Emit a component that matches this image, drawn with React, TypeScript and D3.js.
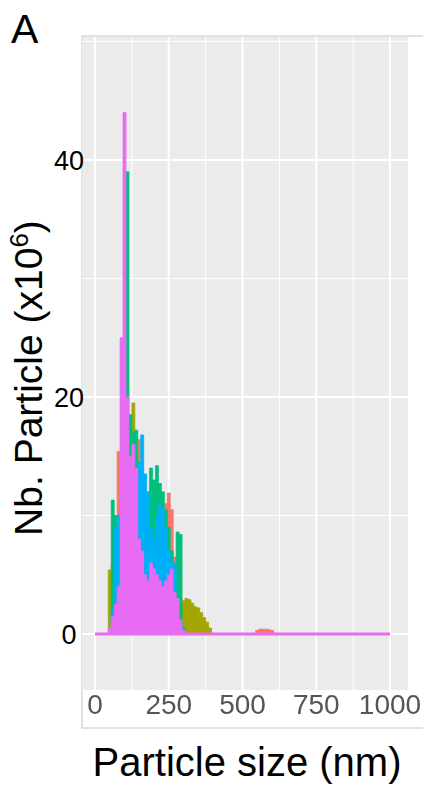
import React, { useRef, useEffect } from 'react';
import * as d3 from 'd3';

// bin centres (nm), 10 nm wide
const binCenters = [50, 60, 70, 80, 90, 100, 110, 120, 130, 140, 150, 160, 170, 180, 190, 200, 210, 220,
  230, 240, 250, 260, 270, 280, 290, 300, 310, 320, 330, 340, 350, 360, 370, 380, 390, 400];

// particle counts (x10^6), one array per sample
const sampleRed = [0, 6.0, 5.0, 15.4, 12.0, 10.0, 12.0, 13.0, 14.0, 15.0, 16.4, 11.0, 9.0, 8.0, 10.0, 9.0, 8.0, 9.5,
  10.5, 11.0, 11.9, 10.5, 6.5, 4.0, 2.5, 1.5, 0.8, 0.4, 0, 0, 0, 0, 0, 0, 0, 0];
const sampleOlive = [5.4, 4.5, 4.0, 5.0, 8.0, 12.0, 16.0, 17.5, 19.5, 15.0, 13.0, 12.0, 10.0, 8.0, 9.0, 10.0, 11.0, 10.0,
  9.0, 8.0, 6.0, 5.0, 4.0, 3.5, 3.0, 2.8, 3.0, 2.9, 2.6, 2.3, 2.2, 1.8, 1.4, 1.0, 0.5, 0];
const sampleGreen = [0, 11.3, 10.0, 7.0, 9.0, 25.0, 39.0, 18.5, 17.0, 17.2, 12.0, 9.0, 8.0, 11.0, 14.0, 13.0, 14.2, 12.7,
  12.0, 10.5, 9.0, 7.0, 5.0, 8.6, 8.4, 0.5, 0, 0, 0, 0, 0, 0, 0, 0, 0, 0];
const sampleBlue = [0, 2.0, 9.0, 10.0, 11.0, 13.0, 12.0, 10.0, 12.0, 13.0, 14.5, 16.8, 13.5, 12.0, 9.0, 8.0, 10.0, 11.0,
  10.5, 9.0, 7.0, 6.0, 6.0, 2.0, 1.0, 0.5, 0, 0, 0, 0, 0, 0, 0, 0, 0, 0];
const samplePink = [0.5, 1.5, 2.5, 4.0, 25.0, 44.0, 20.0, 15.0, 16.0, 14.0, 8.0, 7.0, 5.0, 4.5, 6.0, 5.5, 5.0, 4.5,
  4.0, 4.5, 5.0, 5.5, 3.5, 3.0, 1.2, 0.3, 0, 0, 0, 0, 0, 0, 0, 0, 0, 0];

// small red bump further out
const redBumpCenters = [550, 560, 570, 580, 590, 600];
const redBumpValues = [0.3, 0.4, 0.4, 0.4, 0.35, 0.3];

// pink sample spans the whole measured range
const pinkSpan = [0, 1000];

const sampleColors = ['#F8766D', '#A3A500', '#00BF7D', '#00B0F6', '#E76BF3'];

const xTicks = [0, 250, 500, 750, 1000];
const xMinor = [125, 375, 625, 875];
const yTicks = [0, 20, 40];
const yMinor = [10, 30, 50];

const binWidth = 10;

const App = () => {
  const ref = useRef<SVGSVGElement>(null);

  useEffect(() => {
    const svg = d3.select(ref.current);
    svg.selectAll('*').remove();

    const panel = { left: 82, right: 408, top: 37, bottom: 690 };

    const x = d3.scaleLinear().domain([0, 1000]).range([95, 390]);
    const y = d3.scaleLinear().domain([0, 40]).range([634, 160]);

    const font = 'Liberation Sans, Arial, sans-serif';

    const defs = svg.append('defs');
    defs.append('filter').attr('id', 'soft')
      .append('feGaussianBlur').attr('stdDeviation', 0.7);
    defs.append('clipPath').attr('id', 'panelClip')
      .append('rect')
      .attr('x', panel.left).attr('y', panel.top)
      .attr('width', panel.right - panel.left).attr('height', panel.bottom - panel.top);

    // outer frame
    svg.append('rect')
      .attr('x', 82).attr('y', 36)
      .attr('width', 360).attr('height', 692)
      .attr('fill', 'none').attr('stroke', '#cfcfcf').attr('stroke-width', 1.2);

    svg.append('rect')
      .attr('x', panel.left).attr('y', panel.top)
      .attr('width', panel.right - panel.left).attr('height', panel.bottom - panel.top)
      .attr('fill', '#EBEBEB');

    const grid = svg.append('g').attr('clip-path', 'url(#panelClip)');
    xMinor.forEach(v => {
      grid.append('line').attr('x1', x(v)).attr('x2', x(v))
        .attr('y1', panel.top).attr('y2', panel.bottom)
        .attr('stroke', '#fff').attr('stroke-width', 1);
    });
    yMinor.forEach(v => {
      grid.append('line').attr('x1', panel.left).attr('x2', panel.right)
        .attr('y1', y(v)).attr('y2', y(v))
        .attr('stroke', '#fff').attr('stroke-width', 1);
    });
    xTicks.forEach(v => {
      grid.append('line').attr('x1', x(v)).attr('x2', x(v))
        .attr('y1', panel.top).attr('y2', panel.bottom)
        .attr('stroke', '#fff').attr('stroke-width', 2);
    });
    yTicks.forEach(v => {
      grid.append('line').attr('x1', panel.left).attr('x2', panel.right)
        .attr('y1', y(v)).attr('y2', y(v))
        .attr('stroke', '#fff').attr('stroke-width', 2);
    });

    // step areas
    const area = d3.area<[number, number]>()
      .x(d => x(d[0]))
      .y0(y(0))
      .y1(d => y(d[1]))
      .curve(d3.curveStepAfter);

    function stepPoints(centers: number[], values: number[]) {
      const pts: [number, number][] = centers.map((c, i) => [c - binWidth / 2, values[i]]);
      pts.push([centers[centers.length - 1] + binWidth / 2, 0]);
      return pts;
    }

    const plot = svg.append('g').attr('clip-path', 'url(#panelClip)');
    const samples = [sampleRed, sampleOlive, sampleGreen, sampleBlue, samplePink];

    samples.forEach((vals, i) => {
      plot.append('path')
        .attr('d', area(stepPoints(binCenters, vals)))
        .attr('fill', sampleColors[i])
        .attr('stroke', sampleColors[i])
        .attr('stroke-width', 0.8);
      if (i === 0) {
        plot.append('path')
          .attr('d', area(stepPoints(redBumpCenters, redBumpValues)))
          .attr('fill', sampleColors[0])
          .attr('stroke', sampleColors[0])
          .attr('stroke-width', 1);
      }
    });

    plot.append('line')
      .attr('x1', x(pinkSpan[0])).attr('x2', x(pinkSpan[1]))
      .attr('y1', y(0)).attr('y2', y(0))
      .attr('stroke', sampleColors[4]).attr('stroke-width', 3);

    // x axis
    const xAxis = svg.append('g');
    xTicks.forEach(v => {
      xAxis.append('line').attr('x1', x(v)).attr('x2', x(v))
        .attr('y1', panel.bottom).attr('y2', panel.bottom + 7)
        .attr('stroke', '#444').attr('stroke-width', 2).attr('filter', 'url(#soft)');
      xAxis.append('text')
        .attr('x', x(v)).attr('y', 714)
        .attr('text-anchor', 'middle')
        .attr('font-family', font).attr('font-size', 28)
        .attr('fill', '#555').attr('filter', 'url(#soft)')
        .text(v);
    });

    // y axis
    yTicks.forEach(v => {
      svg.append('text')
        .attr('x', 69).attr('y', y(v) + 10)
        .attr('text-anchor', 'middle')
        .attr('font-family', font).attr('font-size', 27)
        .attr('fill', '#000')
        .text(v);
    });

    // titles
    svg.append('text')
      .attr('x', 247).attr('y', 776)
      .attr('text-anchor', 'middle')
      .attr('font-family', font).attr('font-size', 40)
      .attr('fill', '#000')
      .text('Particle size (nm)');

    const yTitle = svg.append('text')
      .attr('transform', 'translate(42,378) rotate(-90)')
      .attr('text-anchor', 'middle')
      .attr('font-family', font).attr('font-size', 39)
      .attr('fill', '#000');
    yTitle.append('tspan').text('Nb. Particle (x10');
    yTitle.append('tspan').attr('font-size', 26).attr('dy', -14).text('6');
    yTitle.append('tspan').attr('dy', 14).text(')');

    svg.append('text')
      .attr('x', 11).attr('y', 43)
      .attr('font-family', font).attr('font-size', 41)
      .attr('fill', '#000')
      .text('A');
  }, []);

  return (
    <svg ref={ref} width={423} height={786}
      style={{ position: 'absolute', left: 0, top: 0, background: '#fff' }} />
  );
};

export default App;
